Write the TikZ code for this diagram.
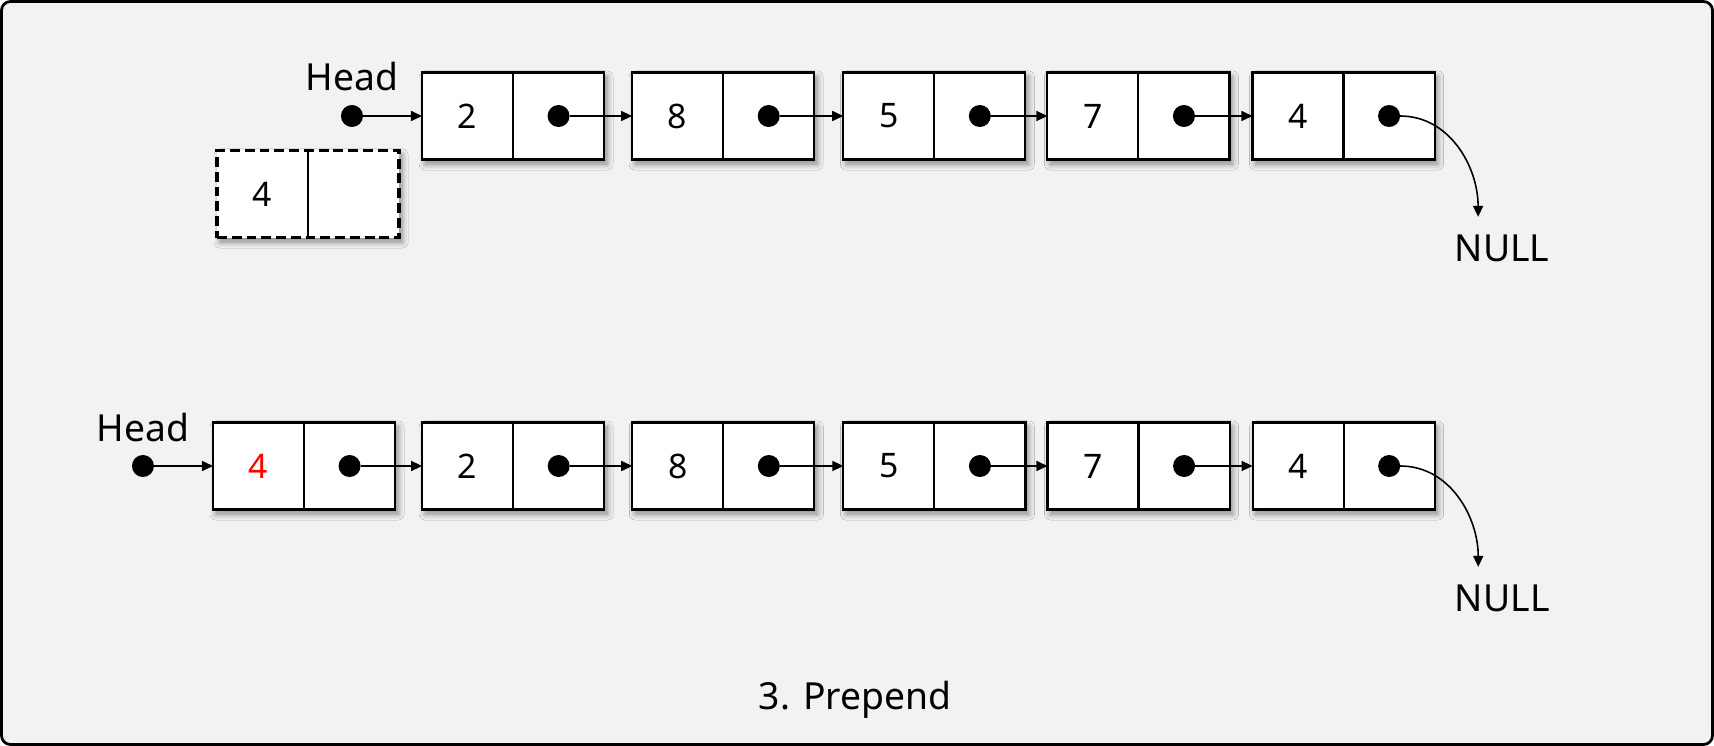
\documentclass[tikz,border=0pt]{standalone}
\usepackage{fontspec}
\setmainfont{Noto Sans}
\usepackage{xcolor}
\usetikzlibrary{positioning, arrows.meta, shadows.blur}
\definecolor{panelgray}{RGB}{242, 242, 242}
\definecolor{newred}{RGB}{255, 0, 0}

\tikzset{
    boxshadow/.style={blur shadow={shadow xshift=0.03cm, shadow yshift=-0.045cm, shadow blur radius=0.06cm, shadow blur steps=8, shadow opacity=45}},
    elem/.style={draw, line width=0.6pt, fill=white, minimum width=1.82cm, minimum height=0.87cm, inner sep=0pt, outer sep=0pt, boxshadow,
        path picture={\draw[solid, line width=0.6pt] (path picture bounding box.north) -- (path picture bounding box.south);},
        label={[inner sep=0pt, xshift=-0.455cm, font=\fontsize{9.6}{11}\selectfont]center:#1}},
    dot/.style={circle, fill=black, inner sep=0pt, outer sep=0pt, minimum size=0.22cm},
    link/.style={-{Triangle[length=0.11cm, width=0.1cm]}, line width=0.45pt},
    lbl/.style={inner sep=0pt, font=\fontsize{10.6}{13}\selectfont},
}

\begin{document}
\begin{tikzpicture}[x=0.01cm, y=-0.01cm]
    \useasboundingbox (0,0) rectangle (1714,746);
    \draw[line width=0.8pt, fill=panelgray, rounded corners=0.09cm] (1.5,1.5) rectangle (1712.5,744.5);

    % list before prepend
    \node[elem=2, anchor=west] (t1) at (422,116) {};
    \node[elem=8, right=0.28cm of t1] (t2) {};
    \node[elem=5, right=0.29cm of t2] (t3) {};
    \node[elem=7, right=0.22cm of t3] (t4) {};
    \node[elem=4, right=0.23cm of t4] (t5) {};

    \node[dot, left=0.59cm of t1] (head1) {};
    \node[lbl, above=0.13cm of head1] (head1lbl) {Head};
    \node[dot] (t1d) at ([xshift=0.455cm]t1.center) {};
    \node[dot] (t2d) at ([xshift=0.455cm]t2.center) {};
    \node[dot] (t3d) at ([xshift=0.455cm]t3.center) {};
    \node[dot] (t4d) at ([xshift=0.455cm]t4.center) {};
    \node[dot] (t5d) at ([xshift=0.455cm]t5.center) {};
    \node[lbl] (null1) at ([xshift=1.13cm, yshift=-1.32cm]t5d) {NULL};

    \draw[link] (head1) -- (t1);
    \draw[link] (t1d) -- (t2);
    \draw[link] (t2d) -- (t3);
    \draw[link] (t3d) -- (t4);
    \draw[link] (t4d) -- (t5);
    \draw[link] (t5d) to[out=0, in=90] ([xshift=-0.24cm, yshift=0.17cm]null1.north);

    % new node
    \node[elem=4, anchor=west, line width=1.1pt, dash pattern=on 2.8pt off 1.4pt] (new) at (217,194) {};

    % list after prepend
    \node[elem=\textcolor{newred}{4}, anchor=west] (b0) at (213,466) {};
    \node[elem=2, right=0.27cm of b0] (b1) {};
    \node[elem=8, right=0.28cm of b1] (b2) {};
    \node[elem=5, right=0.29cm of b2] (b3) {};
    \node[elem=7, right=0.22cm of b3] (b4) {};
    \node[elem=4, right=0.23cm of b4] (b5) {};

    \node[dot, left=0.59cm of b0] (head2) {};
    \node[lbl, above=0.12cm of head2] (head2lbl) {Head};
    \node[dot] (b0d) at ([xshift=0.455cm]b0.center) {};
    \node[dot] (b1d) at ([xshift=0.455cm]b1.center) {};
    \node[dot] (b2d) at ([xshift=0.455cm]b2.center) {};
    \node[dot] (b3d) at ([xshift=0.455cm]b3.center) {};
    \node[dot] (b4d) at ([xshift=0.455cm]b4.center) {};
    \node[dot] (b5d) at ([xshift=0.455cm]b5.center) {};
    \node[lbl] (null2) at ([xshift=1.13cm, yshift=-1.32cm]b5d) {NULL};

    \draw[link] (head2) -- (b0);
    \draw[link] (b0d) -- (b1);
    \draw[link] (b1d) -- (b2);
    \draw[link] (b2d) -- (b3);
    \draw[link] (b3d) -- (b4);
    \draw[link] (b4d) -- (b5);
    \draw[link] (b5d) to[out=0, in=90] ([xshift=-0.24cm, yshift=0.17cm]null2.north);

    \node[lbl, anchor=base] (caption) at (855,710) {3. Prepend};
\end{tikzpicture}
\end{document}
